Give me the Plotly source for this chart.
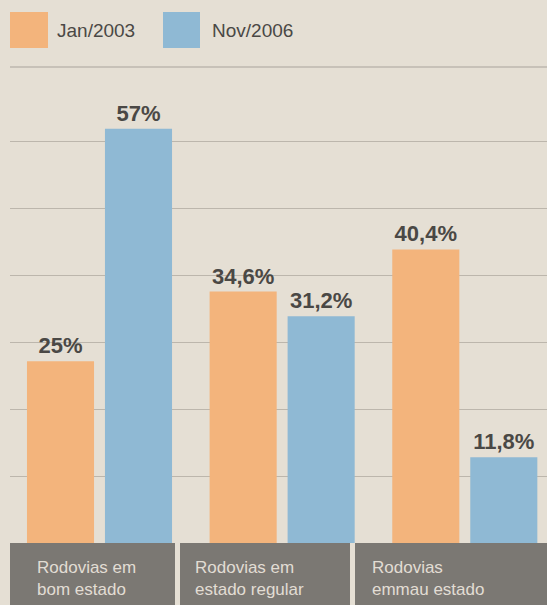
import plotly.graph_objects as go

# ---- data ----
categories = ["Rodovias em<br>bom estado", "Rodovias em<br>estado regular", "Rodovias<br>emmau estado"]
series_names = ["Jan/2003", "Nov/2006"]
jan2003 = [25.0, 34.6, 40.4]
nov2006 = [57.0, 31.2, 11.8]
grid_values = [9.2, 18.4, 27.6, 36.8, 46.0, 55.2]

ORANGE = "#f3b47c"
BLUE = "#8fb9d4"
BG = "#e5dfd4"
TXT = "#4a4845"

W, H = 547, 605
L, R, T, B = 10, 0, 67, 62
PW, PH = W - L - R, H - T - B


def px(x):
    return (x - L) / PW


def py(y):
    return (H - B - y) / PH


def fmt(v):
    s = ("%.1f" % v).replace(".", ",")
    if s.endswith(",0"):
        s = s[:-2]
    return s + "%"


xs = [0, 1, 2]
label_font = dict(family="Liberation Sans, Arial", size=22, color=TXT)

fig = go.Figure()
for name, vals, col in [(series_names[0], jan2003, ORANGE), (series_names[1], nov2006, BLUE)]:
    fig.add_trace(go.Bar(
        x=xs, y=vals, name=name, marker=dict(color=col, line=dict(width=0)),
        text=[fmt(v) for v in vals], textposition="outside",
        texttemplate="<b>%{text}</b>", textfont=label_font,
        constraintext="none", cliponaxis=False, showlegend=False,
    ))

shapes = []
annotations = []

# top separator line under legend
shapes.append(dict(type="line", xref="paper", yref="paper", x0=0, x1=1, y0=1, y1=1,
                   line=dict(color="#aaa49b", width=1.2)))

# manual legend
leg = [(series_names[0], ORANGE, 10, 48, 55), (series_names[1], BLUE, 163, 200, 210)]
for name, col, x0, x1, tx in leg:
    shapes.append(dict(type="rect", xref="paper", yref="paper", x0=px(x0), x1=px(x1),
                       y0=py(48), y1=py(12), fillcolor=col, line=dict(width=0)))
    annotations.append(dict(xref="paper", yref="paper", x=px(tx), y=py(30), text=name,
                            showarrow=False, xanchor="left", yanchor="middle",
                            font=dict(family="Liberation Sans, Arial", size=19, color=TXT)))

# category label boxes
boxes = [(10, 175, 35), (180, 350, 193), (355, 547, 370)]
for (bx0, bx1, tx), cat in zip(boxes, categories):
    shapes.append(dict(type="rect", xref="paper", yref="paper", x0=px(bx0), x1=px(bx1),
                       y0=py(H), y1=py(543), fillcolor="#7b7873", line=dict(width=0)))
    annotations.append(dict(xref="paper", yref="paper", x=px(tx), y=py(578.5), text=cat,
                            showarrow=False, xanchor="left", yanchor="middle", align="left",
                            font=dict(family="Liberation Sans, Arial", size=17, color="#e2ddd4")))

fig.update_layout(
    width=W, height=H,
    margin=dict(l=L, r=R, t=T, b=B, pad=0),
    paper_bgcolor=BG, plot_bgcolor=BG,
    barmode="group", bargap=0.146, bargroupgap=0.14,
    xaxis=dict(range=[-0.49, 2.45], showticklabels=False, showgrid=False,
               zeroline=False, showline=False, ticks=""),
    yaxis=dict(range=[0, 65.5], tickvals=grid_values, showticklabels=False,
               showgrid=True, gridcolor="#bcb6ac", gridwidth=1,
               zeroline=False, showline=False, ticks=""),
    shapes=shapes, annotations=annotations,
    showlegend=False,
)

fig.write_html("out.html")
